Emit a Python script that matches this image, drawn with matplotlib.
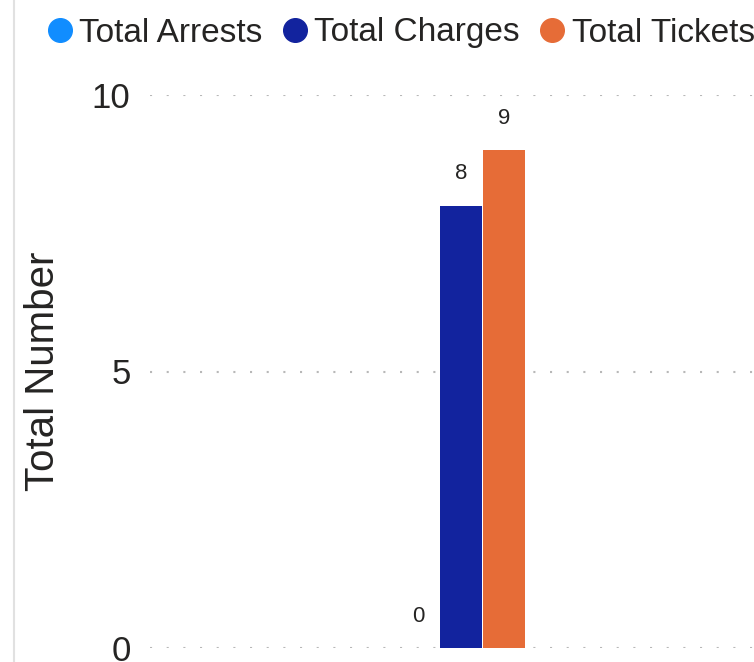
import matplotlib
matplotlib.use('Agg')
import matplotlib.pyplot as plt
from matplotlib.lines import Line2D

plt.rcParams['font.family'] = ['Liberation Sans', 'DejaVu Sans']

series = ['Total Arrests', 'Total Charges', 'Total Tickets']
values = [0, 8, 9]
colors = ['#118DFF', '#12239E', '#E66C37']
offsets = [-1, 0, 1]

fig = plt.figure(figsize=(7.54, 6.62), dpi=100)
ax = fig.add_axes([150 / 754, 1 - 648 / 662, 1 - 150 / 754, (648 - 95) / 662])

for name, v, c, o in zip(series, values, colors, offsets):
    ax.bar(o, v, width=0.96, color=c, label=name)
    ax.annotate(str(v), (o, v), xytext=(0, 23),
                textcoords='offset points', ha='center', va='center',
                fontsize=16, color='#252423')

ax.set_xlim(-7.23, 6.81)
ax.set_ylim(0, 10)
ax.set_yticks([0, 5, 10])
ax.set_xticks([])
ax.tick_params(axis='y', length=0, pad=14, labelsize=25, labelcolor='#252423')
ax.grid(axis='y', color='#b8b8b8', linestyle=(0, (1, 7)), linewidth=1.5)
ax.set_axisbelow(True)
for s in ax.spines.values():
    s.set_visible(False)
ax.set_ylabel('Total Number', fontsize=29, color='#252423')
ax.yaxis.set_label_coords(-0.146, 0.5)

fig.add_artist(Line2D([14 / 754, 14 / 754], [0, 1], color='#e1e1e1', lw=1.5))

handles = [Line2D([], [], marker='o', linestyle='none', markersize=17,
                  markerfacecolor=c, markeredgecolor=c) for c in colors]
fig.legend(handles, series, loc='center left', bbox_to_anchor=(47 / 754, 1 - 33 / 662),
           ncol=3, frameon=False, fontsize=24, handlelength=0.75, handletextpad=0.22,
           columnspacing=0.58, borderaxespad=0, borderpad=0, labelcolor='#252423')

fig.savefig('out.png', dpi=100)
